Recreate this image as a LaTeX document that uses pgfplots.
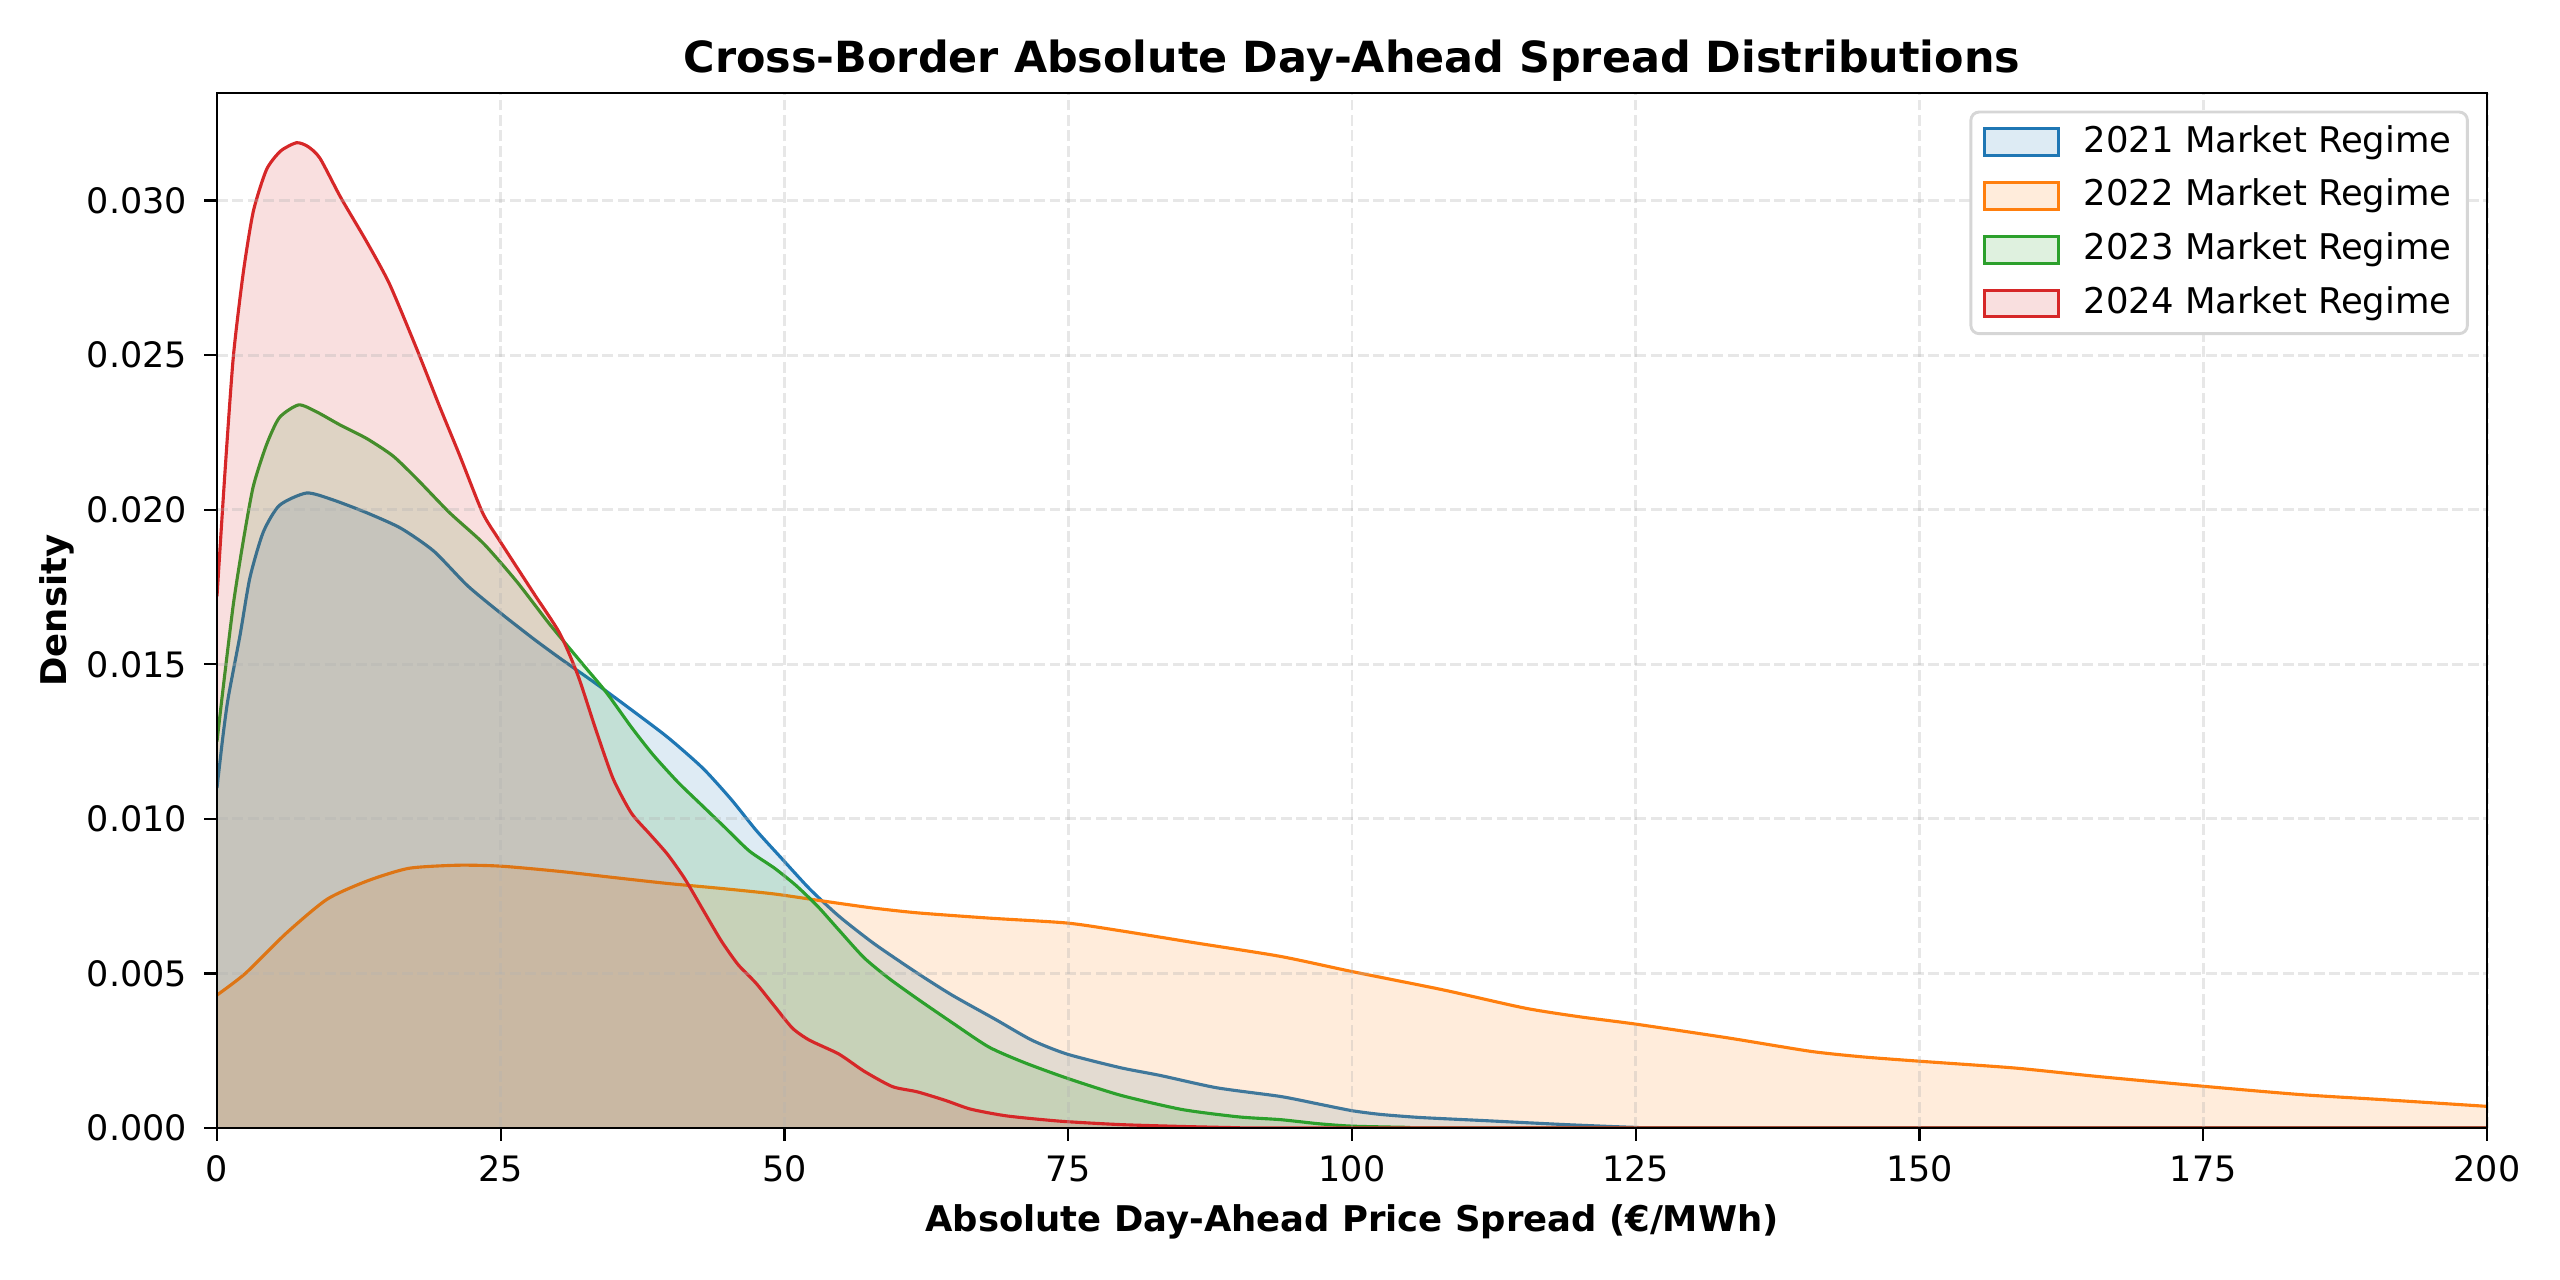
\documentclass[border=0pt]{standalone}
\usepackage{pgfplots}
\pgfplotsset{compat=1.18}
\usepackage{pgfplotstable}
\usepackage{fontspec}
\setmainfont{DejaVu Sans}
\definecolor{cBlue}{HTML}{1F77B4}
\definecolor{cOrange}{HTML}{FF7F0E}
\definecolor{cGreen}{HTML}{2CA02C}
\definecolor{cRed}{HTML}{D62728}
\definecolor{gridc}{HTML}{B0B0B0}
\definecolor{legc}{HTML}{D6D6D6}

% 2021
\pgfplotstableread{
x y
0 0.0110
0.5 0.0126
0.98 0.0139
2.03 0.01594
2.9 0.0178
4.07 0.01927
5.5 0.02014
7.9 0.02054
10.2 0.02032
13.2 0.0199
16.2 0.0194
19.1 0.01866
22.05 0.01755
24.9 0.01668
27.9 0.01582
30.2 0.0152
33.4 0.01437
36.5 0.01353
39.7 0.01264
42.8 0.01164
45.3 0.01063
47.5 0.00963
49.7 0.00874
52.2 0.00774
54.8 0.00685
57.9 0.00596
61.7 0.00501
64.8 0.00429
68.6 0.00351
71.8 0.00284
74.9 0.00239
79.6 0.00195
83.1 0.0017
88.1 0.0013
93.7 0.00102
97 0.00078
100 0.00056
102.5 0.00044
106 0.00034
111.6 0.00024
118.8 0.00011
125 0.00002
130 0
200 0
}\tblA

% 2022
\pgfplotstableread{
x y
0 0.0043
2.5 0.0050
6.1 0.0063
9.7 0.0074
13.3 0.0080
16.9 0.0084
21.2 0.0085
25 0.00847
30.2 0.0083
35 0.0081
39.7 0.00791
44.4 0.00775
49.1 0.00757
53.8 0.00732
57.7 0.00712
61.7 0.00696
68.0 0.00679
74.9 0.00663
79.6 0.00638
86 0.0060
93.7 0.00555
100 0.00506
108 0.00447
115.2 0.00388
120 0.0036
125 0.00336
133.2 0.00291
140.4 0.00248
145 0.0023
150 0.00216
158.4 0.00194
165.6 0.00167
175 0.00135
183.6 0.00108
190.7 0.00092
200 0.0007
}\tblB

% 2023
\pgfplotstableread{
x y
0 0.0125
0.5 0.0141
1.44 0.01694
2.32 0.0190
3.2 0.02076
4.36 0.0221
5.5 0.02298
7.2 0.02339
8.8 0.02316
10.9 0.02273
13.2 0.0223
15.5 0.02174
17.6 0.0210
20.5 0.0199
23.5 0.0189
26.4 0.01768
29.3 0.0163
32.3 0.01497
34.3 0.01409
36.5 0.01297
38.4 0.01208
40.6 0.01119
42.8 0.01041
44.7 0.00974
46.9 0.00896
49.1 0.00841
51.0 0.00785
52.9 0.00718
54.8 0.0064
57.0 0.00551
59.2 0.00484
61.7 0.00418
64.8 0.0034
68.0 0.00262
71.1 0.00212
74.9 0.00161
79.6 0.00106
85 0.0006
90 0.00036
93.7 0.00027
97 0.00014
100 0.00006
105 0.00002
110 0
200 0
}\tblC

% 2024
\pgfplotstableread{
x y
0 0.0172
0.7 0.0212
1.44 0.02495
2.32 0.02768
3.2 0.02965
4.36 0.0310
5.6 0.0316
7.0 0.03187
8.0 0.03175
9.07 0.03137
10.9 0.0301
13.2 0.02866
15.2 0.0273
17.6 0.0252
19.6 0.02335
21.4 0.02174
23.4 0.0199
24.9 0.0190
27.9 0.0173
30.2 0.0160
31.8 0.01464
33.4 0.01286
34.9 0.0113
36.5 0.01019
38.1 0.00952
39.7 0.00885
41.2 0.00807
42.8 0.00707
44.4 0.00607
45.9 0.00529
47.5 0.00468
49.1 0.00395
50.7 0.00323
52.2 0.00284
54.8 0.00239
57.0 0.00184
59.5 0.00134
61.7 0.00117
64.2 0.00089
66.4 0.00061
69.6 0.00039
74.3 0.00022
79.6 0.00011
85 0.00005
90 0.00001
95 0
200 0
}\tblD

\begin{document}
\begin{tikzpicture}
\begin{axis}[
  scale only axis,
  width=544.8pt, height=248.4pt,
  xmin=0, xmax=200, ymin=0, ymax=0.03348,
  xtick={0,25,50,75,100,125,150,175,200},
  ytick={0,0.005,0.010,0.015,0.020,0.025,0.030},
  scaled y ticks=false,
  /pgf/number format/assume math mode=true,
  yticklabel style={/pgf/number format/fixed, /pgf/number format/fixed zerofill, /pgf/number format/precision=3, inner sep=0pt},
  xticklabel style={inner sep=0pt},
  xticklabel shift=3.5pt,
  yticklabel shift=4pt,
  tick label style={font=\fontsize{8.4}{10}\selectfont},
  tick align=outside, tick pos=left, major tick length=3pt,
  every tick/.style={black, line width=0.55pt},
  axis line style={line width=0.6pt},
  grid=major,
  major grid style={gridc, opacity=0.3, line width=0.7pt, dash pattern=on 2.6pt off 1.1pt},
  axis on top,
  title={Cross-Border Absolute Day-Ahead Spread Distributions},
  every axis title/.style={font=\bfseries\fontsize{10.3}{12}\selectfont, at={(axis description cs:0.5,1.0197)}, anchor=base, inner sep=0pt},
  xlabel={Absolute Day-Ahead Price Spread (€/MWh)},
  xlabel style={font=\bfseries\fontsize{8.5}{10}\selectfont, at={(axis description cs:0.5,-0.1003)}, anchor=base, inner sep=0pt},
  ylabel={Density},
  ylabel style={font=\bfseries\fontsize{8.5}{10}\selectfont, at={(axis description cs:-0.0665,0.5)}, anchor=base, inner sep=0pt},
  legend image code/.code={\draw[sharp corners, #1] (0pt,-3.2pt) rectangle (17.6pt,3.2pt);},
  legend style={at={(axis description cs:0.992,0.983)}, anchor=north east,
    draw=legc, line width=0.7pt, rounded corners=2pt, fill=white,
    font=\fontsize{8.5}{10}\selectfont,
    inner xsep=3pt, inner ysep=2.4pt, row sep=3.2pt,
    nodes={inner sep=0.8pt, text height=6.4pt, text depth=1.7pt},
    /tikz/every odd column/.append style={column sep=5pt},
    cells={anchor=west}},
]
\addplot[smooth, tension=0.4, draw=none, fill=cBlue, fill opacity=0.15, forget plot] table {\tblA} \closedcycle;
\addplot[smooth, tension=0.4, cBlue, line width=0.75pt, forget plot] table {\tblA};
\addplot[smooth, tension=0.4, draw=none, fill=cOrange, fill opacity=0.15, forget plot] table {\tblB} \closedcycle;
\addplot[smooth, tension=0.4, cOrange, line width=0.75pt, forget plot] table {\tblB};
\addplot[smooth, tension=0.4, draw=none, fill=cGreen, fill opacity=0.15, forget plot] table {\tblC} \closedcycle;
\addplot[smooth, tension=0.4, cGreen, line width=0.75pt, forget plot] table {\tblC};
\addplot[smooth, tension=0.4, draw=none, fill=cRed, fill opacity=0.15, forget plot] table {\tblD} \closedcycle;
\addplot[smooth, tension=0.4, cRed, line width=0.75pt, forget plot] table {\tblD};

\addlegendimage{draw=cBlue, fill=cBlue!15, line width=0.7pt}
\addlegendentry{2021 Market Regime}
\addlegendimage{draw=cOrange, fill=cOrange!15, line width=0.7pt}
\addlegendentry{2022 Market Regime}
\addlegendimage{draw=cGreen, fill=cGreen!15, line width=0.7pt}
\addlegendentry{2023 Market Regime}
\addlegendimage{draw=cRed, fill=cRed!15, line width=0.7pt}
\addlegendentry{2024 Market Regime}
\end{axis}
\pgfresetboundingbox
\useasboundingbox (-52.08pt,-36.48pt) rectangle (562.32pt,270.72pt);
\end{tikzpicture}
\end{document}
